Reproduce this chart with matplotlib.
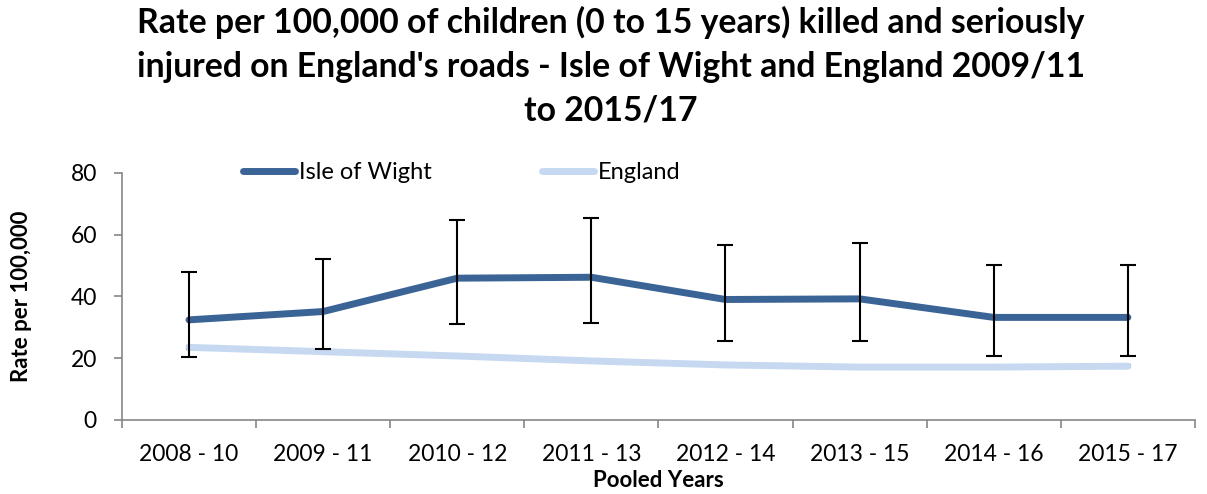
import numpy as np
import matplotlib
matplotlib.use("Agg")
import matplotlib.pyplot as plt

# Dados
periods = ['2008 - 10', '2009 - 11', '2010 - 12', '2011 - 13',
           '2012 - 14', '2013 - 15', '2014 - 16', '2015 - 17']
iow_rate = [32.4, 35.1, 45.9, 46.2, 39.0, 39.2, 33.2, 33.2]
iow_upper = [48.0, 52.2, 64.7, 65.3, 56.8, 57.2, 50.2, 50.2]
iow_lower = [20.5, 23.0, 31.1, 31.3, 25.4, 25.5, 20.8, 20.8]
eng_rate = [23.5, 22.1, 20.7, 19.1, 17.8, 17.1, 17.1, 17.4]
eng_upper = [23.9, 22.5, 21.1, 19.5, 18.2, 17.5, 17.5, 17.8]
eng_lower = [23.1, 21.7, 20.3, 18.7, 17.4, 16.7, 16.7, 17.0]

plt.rcParams['font.family'] = ['Lato', 'DejaVu Sans']

fig = plt.figure(figsize=(12.07, 4.94), dpi=100)
ax = fig.add_axes([0.101, 0.150, 0.889, 0.500])

x = np.arange(len(periods)) + 0.5
iow_err = [np.array(iow_rate) - np.array(iow_lower), np.array(iow_upper) - np.array(iow_rate)]
eng_err = [np.array(eng_rate) - np.array(eng_lower), np.array(eng_upper) - np.array(eng_rate)]

ax.plot(x, eng_rate, color='#c6d9f1', lw=5, solid_capstyle='round', label='England', zorder=3)
ax.errorbar(x, eng_rate, yerr=eng_err, fmt='none', ecolor='black', elinewidth=1.5,
            capsize=2, capthick=1.5, zorder=2)
ax.plot(x, iow_rate, color='#3a6396', lw=5, solid_capstyle='round', label='Isle of Wight', zorder=4)
ax.errorbar(x, iow_rate, yerr=iow_err, fmt='none', ecolor='black', elinewidth=1.5,
            capsize=6, capthick=1.5, zorder=5)

ax.set_xlim(0, len(periods))
ax.set_ylim(0, 80)
ax.set_yticks([0, 20, 40, 60, 80])
ax.set_xticks(np.arange(len(periods) + 1))
ax.set_xticklabels([])
ax.set_xticks(x, minor=True)
ax.set_xticklabels(periods, minor=True)
ax.tick_params(axis='x', which='minor', length=0, labelsize=16.5, pad=17)
ax.tick_params(axis='x', which='major', length=6, color='#868686', width=1.2)
ax.tick_params(axis='y', length=6, color='#868686', width=1.2, labelsize=16.5, pad=12)

for s in ['top', 'right']:
    ax.spines[s].set_visible(False)
for s in ['left', 'bottom']:
    ax.spines[s].set_color('#868686')
    ax.spines[s].set_linewidth(1.2)

ax.set_xlabel('Pooled Years', fontsize=16, fontweight='bold', labelpad=4)
ax.set_ylabel('Rate per 100,000', fontsize=16, fontweight='bold', labelpad=28)

handles, labels = ax.get_legend_handles_labels()
ax.legend(handles[::-1], labels[::-1], loc='upper left', bbox_to_anchor=(0.113, 1.044),
          ncol=2, frameon=False, fontsize=17, handlelength=2.2, handletextpad=0.15,
          columnspacing=4.7, borderpad=0, borderaxespad=0)

fig.suptitle("Rate per 100,000 of children (0 to 15 years) killed and seriously\n"
             "injured on England's roads - Isle of Wight and England 2009/11\n"
             "to 2015/17", fontsize=24.3, fontweight='bold', x=0.506, y=0.989,
             linespacing=1.47)

plt.savefig('out.png', dpi=100)
